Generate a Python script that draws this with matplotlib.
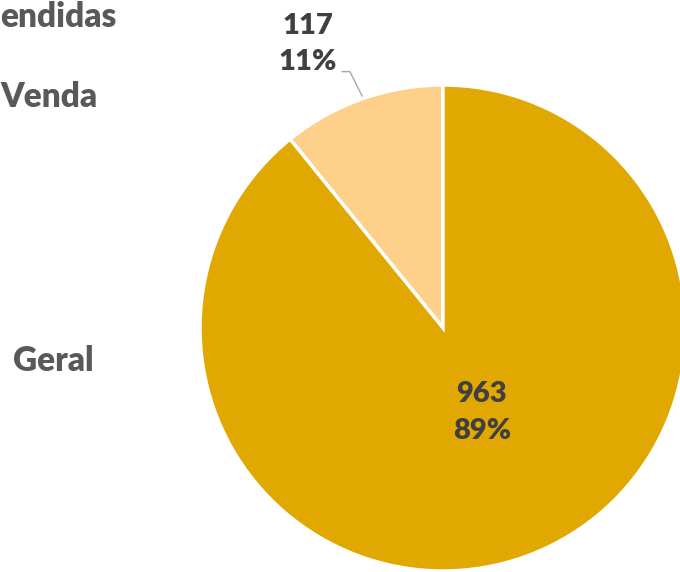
import matplotlib
matplotlib.use("Agg")
from matplotlib import pyplot as plt

# slice data (counter-clockwise from 12 o'clock)
values = [117, 963]
percents = ["11%", "89%"]
colors = ["#FFD08A", "#E0A800"]

# category labels on the left (cut off in the original)
side_labels = ["endidas", "Venda", "Geral"]

plt.rcParams['font.family'] = ['Lato', 'DejaVu Sans']

fig = plt.figure(figsize=(6.8, 5.72), dpi=100)

# axes box sized to the pie: centre (443, 328) px, radius 243 px
W, H = 680, 572
cx, cy, r = 443, 328, 243
ax = fig.add_axes([(cx - r) / W, (H - cy - r) / H, 2 * r / W, 2 * r / H])

wedges, _ = ax.pie(values, colors=colors, startangle=90, counterclock=True,
                   radius=1, wedgeprops={'edgecolor': 'white', 'linewidth': 2.5})
for w in wedges:
    w.set_clip_on(False)
ax.set_xlim(-1, 1)
ax.set_ylim(-1, 1)
ax.axis('off')

label_color = "#404040"

# label inside the big slice
ax.text(0.16, -0.348, "%d\n%s" % (values[1], percents[1]), ha='center', va='center',
        fontsize=21, fontweight='heavy', color=label_color, linespacing=1.5)

# label outside the small slice with a leader line
ax.text(-0.555, 1.169, "%d\n%s" % (values[0], percents[0]), ha='center', va='center',
        fontsize=21, fontweight='heavy', color=label_color, linespacing=1.5,
        clip_on=False)
ax.plot([-0.415, -0.383, -0.333], [1.055, 1.055, 0.955], color="#A6A6A6",
        linewidth=1, clip_on=False)

side_color = "#595959"
fig.text(0 / W, 1 - 17 / H, side_labels[0], ha='left', va='center',
         fontsize=24, fontweight='heavy', color=side_color)
fig.text(0 / W, 1 - 97 / H, side_labels[1], ha='left', va='center',
         fontsize=24, fontweight='heavy', color=side_color)
fig.text(13 / W, 1 - 361 / H, side_labels[2], ha='left', va='center',
         fontsize=24, fontweight='heavy', color=side_color)

fig.savefig("out.png", dpi=100)
